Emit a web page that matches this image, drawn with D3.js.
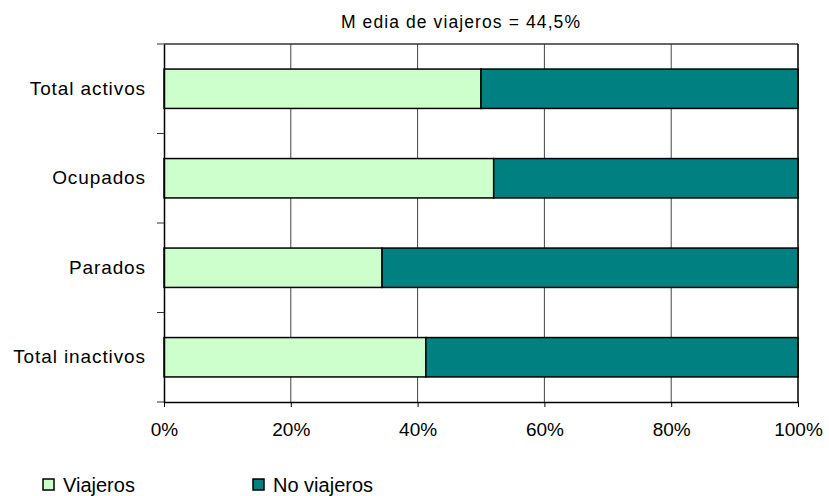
<!DOCTYPE html>
<html><head><meta charset="utf-8">
<script src="https://cdn.jsdelivr.net/npm/d3@7"></script>
<style>body{margin:0;background:#fff}svg{display:block}text{font-family:"Liberation Sans",Arial,sans-serif}</style>
</head><body>
<svg id="c" width="829" height="496"></svg>
<script>
const categories = ["Total activos","Ocupados","Parados","Total inactivos"];
const viajeros = [50.0, 52.0, 34.4, 41.3];
const noViajeros = [50.0, 48.0, 65.6, 58.7];
const seriesNames = ["Viajeros","No viajeros"];
const colors = ["#CCFFCC","#008080"];
const xTicks = [0,20,40,60,80,100];
const title = "M edia de viajeros = 44,5%";

const FF = '"Liberation Sans",Arial,sans-serif';
const svg = d3.select("#c");
const L=164, R=798, T=44, B=402;
const x = d3.scaleLinear().domain([0,100]).range([L,R]);
const y = d3.scaleBand().domain(categories).range([T,B]).paddingInner(0.56).paddingOuter(0.28);

// title
svg.append("text").attr("x",461).attr("y",28).attr("text-anchor","middle")
  .attr("font-size",17.5).attr("letter-spacing",1.1).text(title);

// gridlines
svg.append("g").selectAll("line").data(xTicks.slice(1,-1)).join("line")
  .attr("x1",d=>x(d)).attr("x2",d=>x(d)).attr("y1",T).attr("y2",B)
  .attr("stroke","#444").attr("stroke-width",1);

// stacked bars
const stackData = categories.map((c,i)=>({cat:c, Viajeros:viajeros[i], "No viajeros":noViajeros[i]}));
const stack = d3.stack().keys(seriesNames)(stackData);
svg.append("g").selectAll("g").data(stack).join("g").attr("fill",(d,i)=>colors[i])
  .selectAll("rect").data(d=>d).join("rect")
  .attr("x",d=>x(d[0])).attr("width",d=>x(d[1])-x(d[0]))
  .attr("y",d=>y(d.data.cat)).attr("height",y.bandwidth())
  .attr("stroke","#000").attr("stroke-width",1.5);

// frame
svg.append("line").attr("x1",L).attr("x2",R).attr("y1",T).attr("y2",T).attr("stroke","#333").attr("stroke-width",1.5);
svg.append("line").attr("x1",R).attr("x2",R).attr("y1",T).attr("y2",B).attr("stroke","#000").attr("stroke-width",1.5);

// x axis
const xa = svg.append("g").attr("transform",`translate(0,${B})`)
  .call(d3.axisBottom(x).tickValues(xTicks).tickFormat(d=>d+"%").tickSize(5).tickSizeOuter(0));
xa.select(".domain").attr("stroke","#000").attr("stroke-width",1.5);
xa.selectAll(".tick line").attr("stroke","#000");
xa.selectAll("text").attr("font-size",19).attr("fill","#000").attr("y",34).attr("dy",0).style("font-family",FF);

// y axis
const ya = svg.append("g").attr("transform",`translate(${L},0)`)
  .call(d3.axisLeft(y).tickSize(0).tickPadding(18));
ya.select(".domain").attr("stroke","#000").attr("stroke-width",1.5);
ya.selectAll("text").attr("font-size",19).attr("letter-spacing",0.9).attr("fill","#000").style("font-family",FF);
// category boundary ticks
const bounds = [T, ...categories.slice(1).map((c,i)=>(y(c)+ y(categories[i])+y.bandwidth())/2), B];
svg.append("g").selectAll("line").data(bounds).join("line")
  .attr("x1",L-7).attr("x2",L).attr("y1",d=>d).attr("y2",d=>d).attr("stroke","#333").attr("stroke-width",1);

// legend
const lg = svg.append("g");
const lx = [43, 253];
seriesNames.forEach((n,i)=>{
  lg.append("rect").attr("x",lx[i]).attr("y",479).attr("width",11).attr("height",11)
    .attr("fill",colors[i]).attr("stroke","#000").attr("stroke-width",1.5);
  lg.append("text").attr("x",lx[i]+20).attr("y",492).attr("font-size",20).text(n);
});
</script>
</body></html>
